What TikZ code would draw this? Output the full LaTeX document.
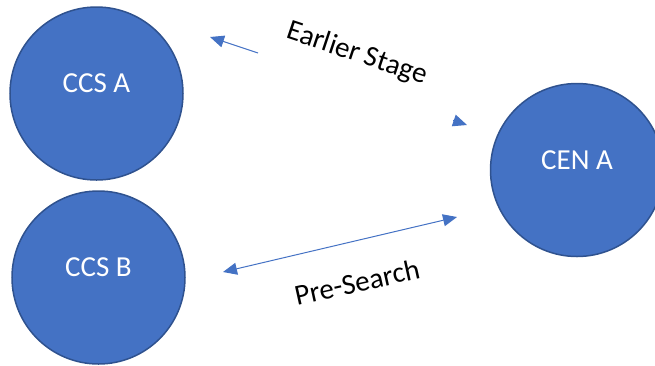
\documentclass[tikz,border=0pt]{standalone}
\usepackage{fontspec}
\setmainfont{Carlito}
\usetikzlibrary{arrows.meta}
\definecolor{nodefill}{HTML}{4472C4}
\definecolor{nodeedge}{HTML}{2F528F}
\definecolor{linkblue}{HTML}{4472C4}
\tikzset{
  station/.style={circle, minimum size=173pt, inner sep=0pt, fill=nodefill,
    draw=nodeedge, line width=1.5pt, text=white,
    font=\fontsize{29}{35}\selectfont},
  link/.style={draw=linkblue, line width=1pt,
    arrows={-Triangle[length=14pt,width=12pt]}},
  biglabel/.style={font=\fontsize{29}{35}\selectfont, text=black, inner sep=0pt}
}
\begin{document}
\begin{tikzpicture}[x=1pt,y=-1pt]
\useasboundingbox (0,0) rectangle (655,365);

% stations (labels sit a little above the centre)
\node[station] (ccsa) at (96.5,93.5) {\raisebox{20pt}{CCS A}};
\node[station] (ccsb) at (98.5,277.5) {\raisebox{20pt}{CCS B}};
\node[station] (cena) at (577,170) {\raisebox{20pt}{CEN A}};

% earlier stage link (only its two ends are visible)
\coordinate (es-a) at (258,53);
\coordinate (es-a-tip) at (210,37);
\coordinate (es-b) at (453.2,120.3);
\coordinate (es-b-tip) at (467,125);
\draw[link] (es-a) -- (es-a-tip);
\draw[link] (es-b) -- (es-b-tip);
\node[biglabel, rotate=-18.5] (es-label) at (357,54) {Earlier Stage};

% pre-search link
\coordinate (ps-a) at (223,272);
\coordinate (ps-b) at (457,217);
\draw[link, arrows={Triangle[length=14pt,width=12pt]-Triangle[length=14pt,width=12pt]}] (ps-a) -- (ps-b);
\node[biglabel, rotate=12.5] (ps-label) at (357,282) {Pre-Search};
\end{tikzpicture}
\end{document}
